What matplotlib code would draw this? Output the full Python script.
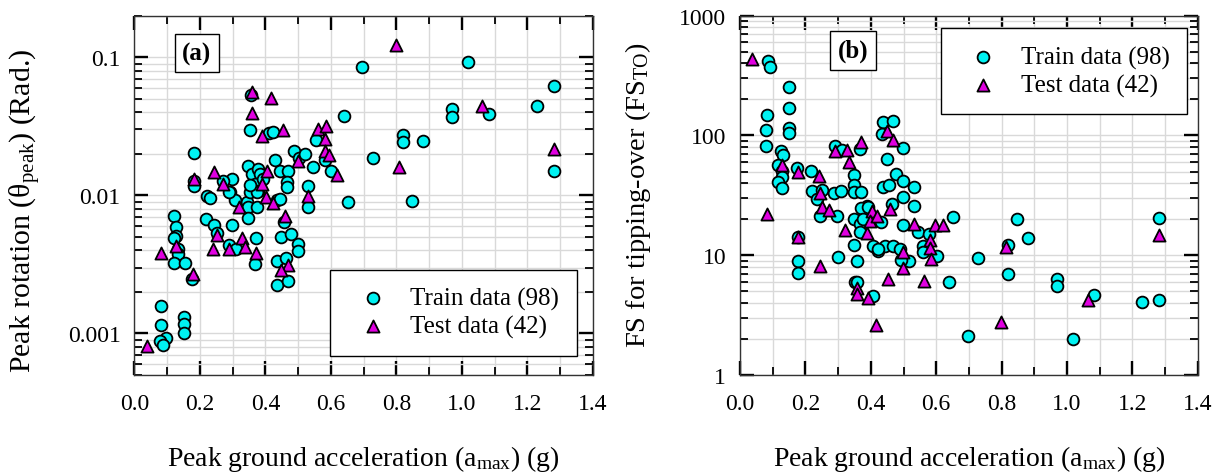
import numpy as np
import matplotlib
matplotlib.use('Agg')
import matplotlib.pyplot as plt
from matplotlib.ticker import FixedLocator, FixedFormatter, MultipleLocator, LogLocator, NullFormatter

# ---- data ----
# (a) peak rotation vs PGA
pga_train_a = [0.081, 0.081, 0.095, 0.078, 0.088, 0.152, 0.152, 0.152,
               0.122, 0.128, 0.128, 0.122, 0.132, 0.132, 0.122, 0.154,
               0.183, 0.183, 0.183, 0.176, 0.223, 0.230, 0.218, 0.244, 0.251,
               0.297, 0.290, 0.297, 0.271, 0.292, 0.307, 0.370, 0.368,
               0.356, 0.354, 0.412, 0.422, 0.347, 0.358, 0.378, 0.383,
               0.430, 0.444, 0.470, 0.465, 0.465, 0.487, 0.503, 0.521,
               0.544, 0.554, 0.583, 0.601, 0.640, 0.653, 0.531, 0.531,
               0.288, 0.343, 0.347, 0.373, 0.347, 0.353, 0.368, 0.378, 0.394,
               0.373, 0.353, 0.434, 0.443, 0.457, 0.449, 0.477, 0.500, 0.500,
               0.436, 0.463, 0.436, 0.468, 0.310,
               0.695, 1.018, 1.281, 1.228, 1.083, 0.970, 0.970, 0.819, 0.819,
               0.881, 1.281, 0.727, 0.848]
rot_train = [0.00159, 0.00116, 0.00093, 0.00088, 0.00082, 0.00131, 0.00118, 0.00100,
             0.00711, 0.00593, 0.00509, 0.00488, 0.00408, 0.00376, 0.00322, 0.00322,
             0.0203, 0.01277, 0.01175, 0.00246, 0.00993, 0.0095, 0.00673, 0.0061, 0.00531,
             0.0061, 0.00436, 0.0131, 0.01277, 0.0105, 0.0092, 0.00493, 0.00318,
             0.0537, 0.0299, 0.0283, 0.0289, 0.0164, 0.0143, 0.0155, 0.0143,
             0.0181, 0.0150, 0.0150, 0.0124, 0.0114, 0.0210, 0.0185, 0.0199,
             0.0160, 0.0252, 0.0180, 0.0151, 0.0378, 0.00889, 0.0117, 0.00828,
             0.0106, 0.0089, 0.0082, 0.0083, 0.0069, 0.0105, 0.0121, 0.0108, 0.0131,
             0.0105, 0.0119, 0.0092, 0.0094, 0.00645, 0.00497, 0.00524, 0.00443, 0.00397,
             0.00336, 0.00352, 0.00224, 0.0024, 0.00408,
             0.0851, 0.0920, 0.0624, 0.0447, 0.0386, 0.0423, 0.0372, 0.0273, 0.0242,
             0.0246, 0.0149, 0.0185, 0.0091]
pga_test_a = [0.037, 0.081, 0.128, 0.181, 0.179, 0.244, 0.251, 0.241, 0.271, 0.290,
              0.329, 0.337, 0.370, 0.359, 0.359, 0.416, 0.389, 0.454, 0.404, 0.498,
              0.561, 0.585, 0.582, 0.582, 0.595, 0.619, 0.531, 0.388, 0.402, 0.422,
              0.460, 0.468, 0.449, 0.799, 1.062, 1.281, 0.809, 0.318]
rot_test = [0.00081, 0.0038, 0.00432, 0.0131, 0.00269, 0.0147, 0.00516, 0.00408, 0.0121, 0.00408,
            0.00488, 0.0042, 0.00384, 0.0557, 0.0397, 0.0510, 0.0268, 0.0296, 0.0149, 0.0176,
            0.0303, 0.0320, 0.0256, 0.0208, 0.0197, 0.0141, 0.00985, 0.0121, 0.0097, 0.0088,
            0.0071, 0.00315, 0.00289, 0.1228, 0.0442, 0.0217, 0.0161, 0.0082]

# (b) FS for tipping-over vs PGA
pga_train_b = [0.085, 0.092, 0.150, 0.150, 0.081, 0.079, 0.150, 0.151, 0.080, 0.124,
               0.130, 0.117, 0.127, 0.127, 0.117, 0.127, 0.175, 0.216, 0.219, 0.250,
               0.234, 0.243, 0.296, 0.288, 0.309, 0.290, 0.311, 0.347, 0.347, 0.347,
               0.347, 0.178, 0.178, 0.178, 0.299, 0.350, 0.352, 0.436, 0.467, 0.433,
               0.499, 0.449, 0.367, 0.477, 0.499, 0.532, 0.436, 0.457, 0.499, 0.532,
               0.464, 0.652, 0.499, 0.545, 0.579, 0.559, 0.559, 0.601, 0.517, 0.493,
               0.640, 0.408, 0.423, 0.443, 0.469, 0.489, 0.359, 0.387, 0.370, 0.430,
               0.367, 0.367, 0.357, 0.408, 0.698, 0.729, 0.820, 0.820, 0.848, 0.882,
               0.970, 0.970, 1.017, 1.083, 1.229, 1.282, 1.282, 0.392, 0.377, 0.422,
               0.369]
fs_train = [418, 370, 252, 168, 148, 112, 116, 104, 81, 74.5,
            68.6, 56.6, 50.7, 44.7, 41.0, 36.1, 53.1, 50.7, 34.5, 35.2,
            29.4, 21.1, 21.1, 33.0, 34.5, 81, 76, 46.7, 38.5, 33.5,
            20.0, 14.1, 8.98, 7.08, 9.6, 12.1, 6.0, 128.6, 133, 103,
            78, 63.5, 77, 47.6, 41.9, 36.9, 36.9, 38.5, 30.8, 25.9,
            26.7, 20.7, 17.8, 15.5, 15.0, 11.9, 10.7, 9.9, 8.98, 9.16,
            6.0, 12.0, 10.9, 12.0, 12.0, 11.2, 8.98, 25.6, 25.0, 18.8,
            18.2, 15.7, 5.93, 4.58, 2.13, 9.46, 12.1, 6.91, 20.2, 13.9,
            6.28, 5.52, 1.98, 4.70, 4.06, 4.25, 20.6, 25.3, 20.2, 11.3,
            33.9]
pga_test_b = [0.036, 0.081, 0.127, 0.178, 0.178, 0.244, 0.240, 0.243, 0.250, 0.273,
              0.290, 0.326, 0.334, 0.369, 0.320, 0.357, 0.357, 0.390, 0.416, 0.387,
              0.403, 0.398, 0.418, 0.448, 0.467, 0.459, 0.454, 0.497, 0.497, 0.532,
              0.580, 0.580, 0.583, 0.595, 0.621, 0.563, 0.798, 0.812, 1.065, 1.282]
fs_test = [431, 22.2, 56.5, 49.4, 14.2, 8.1, 45.7, 33.1, 25.4, 23.8,
           73.5, 76.3, 60.6, 87.4, 16.2, 5.35, 4.75, 4.39, 2.62, 15.3,
           23.5, 19.3, 21.4, 108, 92.5, 24.5, 6.37, 10.55, 7.85, 18.2,
           13.5, 11.4, 9.37, 17.9, 17.9, 6.13, 2.76, 11.7, 4.27, 14.7]

train_label = 'Train data (98)'
test_label = 'Test data (42)'
x_ticks = [0.0, 0.2, 0.4, 0.6, 0.8, 1.0, 1.2, 1.4]

plt.rcParams['font.family'] = ['Liberation Serif', 'DejaVu Serif']
plt.rcParams['mathtext.fontset'] = 'custom'
plt.rcParams['mathtext.rm'] = 'Liberation Serif'
plt.rcParams['mathtext.it'] = 'Liberation Serif:italic'

fig = plt.figure(figsize=(12.2, 4.77), dpi=100)
ax_a = fig.add_axes([0.1102, 0.2117, 0.3758, 0.7533])
ax_b = fig.add_axes([0.6066, 0.2117, 0.3752, 0.7533])

circ = dict(marker='o', s=72, c='#00F2F2', edgecolors='black', linewidths=1.3, zorder=3)
tri = dict(marker='^', s=76, c='#E000E0', edgecolors='black', linewidths=1.3, zorder=4)


def style_axes(ax):
    ax.set_xlim(0, 1.4)
    ax.set_yscale('log')
    ax.xaxis.set_major_locator(FixedLocator(x_ticks))
    ax.set_xticklabels(['%.1f' % v for v in x_ticks])
    ax.xaxis.set_minor_locator(MultipleLocator(0.1))
    ax.yaxis.set_minor_locator(LogLocator(base=10, subs=np.arange(2, 10)))
    ax.yaxis.set_minor_formatter(NullFormatter())
    ax.grid(which='both', color='#d9d9d9', linewidth=1.0, zorder=0)
    ax.set_axisbelow(True)
    ax.tick_params(which='major', direction='in', length=10, width=1.7,
                   top=True, right=True, labelsize=17)
    ax.tick_params(which='minor', direction='in', length=5.5, width=1.3,
                   top=True, right=True)
    ax.tick_params(axis='x', which='major', pad=13)
    ax.tick_params(axis='y', which='major', pad=10)
    for sp in ax.spines.values():
        sp.set_linewidth(1.0)
        sp.set_color('#333333')
    ax.set_xlabel(r'Peak ground acceleration (a$_{\rm max}$) (g)', fontsize=20)
    ax.xaxis.set_label_coords(0.5, -0.19)


def add_legend(ax, loc, anchor):
    leg = ax.legend(loc=loc, bbox_to_anchor=anchor, fontsize=18,
                    fancybox=False, edgecolor='black', framealpha=1, borderaxespad=0,
                    handlelength=2.0, handletextpad=0.5, borderpad=0.7, labelspacing=0.2)
    leg.get_frame().set_linewidth(1.0)


def add_tag(ax, x, y, s):
    ax.text(x, y, s, transform=ax.transAxes, fontsize=18, fontweight='bold',
            ha='center', va='center', zorder=6,
            bbox=dict(boxstyle='square,pad=0.3', fc='white', ec='black', lw=1.0))


# panel (a)
ax_a.scatter(pga_train_a, rot_train, label=train_label, **circ)
ax_a.scatter(pga_test_a, rot_test, label=test_label, **tri)
style_axes(ax_a)
ax_a.set_ylim(0.0005, 0.2)
ax_a.yaxis.set_major_locator(FixedLocator([0.001, 0.01, 0.1]))
ax_a.yaxis.set_major_formatter(FixedFormatter(['0.001', '0.01', '0.1']))
ax_a.set_ylabel(r'Peak rotation (θ$_{\rm peak}$) (Rad.)', fontsize=21.5)
ax_a.yaxis.set_label_coords(-0.2, 0.46)
add_tag(ax_a, 0.136, 0.895, '(a)')
add_legend(ax_a, 'lower right', (0.965, 0.053))

# panel (b)
ax_b.scatter(pga_train_b, fs_train, label=train_label, **circ)
ax_b.scatter(pga_test_b, fs_test, label=test_label, **tri)
style_axes(ax_b)
ax_b.set_ylim(1, 1000)
ax_b.yaxis.set_major_locator(FixedLocator([1, 10, 100, 1000]))
ax_b.yaxis.set_major_formatter(FixedFormatter(['1', '10', '100', '1000']))
ax_b.set_ylabel(r'FS for tipping-over (FS$_{\rm TO}$)', fontsize=20.5)
ax_b.yaxis.set_label_coords(-0.191, 0.504)
add_tag(ax_b, 0.247, 0.903, '(b)')
add_legend(ax_b, 'upper right', (0.977, 0.966))

fig.savefig('out.png', dpi=100)
